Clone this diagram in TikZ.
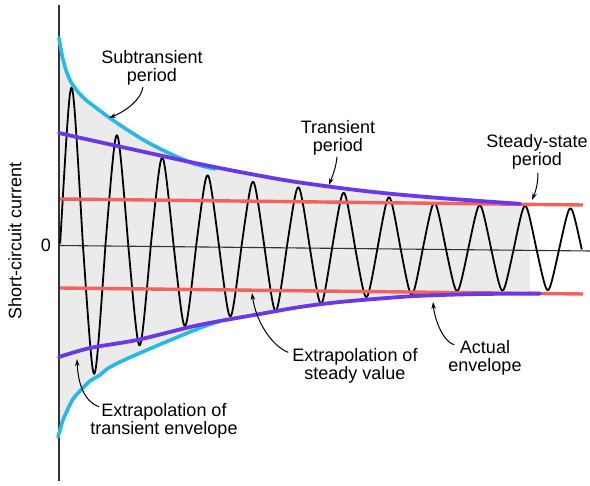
\documentclass[tikz,border=0pt]{standalone}
\usepackage{fontspec}
\setmainfont{Liberation Sans}
\usetikzlibrary{arrows.meta,calc}
\definecolor{envcyan}{HTML}{25B9EA}
\definecolor{envpurple}{HTML}{6A38E6}
\definecolor{envred}{HTML}{F2625E}
\definecolor{areagray}{HTML}{EBEBEB}
\begin{document}
\begin{tikzpicture}[x=1pt,y=-1pt,
  declare function={mid(\t)=243.5+0.0115*(\t-60); tri(\t)=asin(0.9*cos(\t))/asin(0.9);},
  txt/.style={font=\fontsize{18}{18}\selectfont, align=center, inner sep=0pt},
  wave/.style={line width=1.8pt, line join=round, black},
  cyanline/.style={envcyan, line width=3.6pt, line cap=round},
  purpleline/.style={envpurple, line width=3.8pt, line cap=round},
  redline/.style={envred, line width=3.4pt},
  axisline/.style={line width=1.1pt, black!80},
  arr/.style={line width=1pt, -{Stealth[length=7pt,width=4.5pt]}}]
\useasboundingbox (0,0) rectangle (590,486);
% shaded area inside the actual envelope
\fill[areagray] plot[smooth] coordinates {(59,38) (62,55) (66,70) (71,82) (78,92) (86,100) (95,107) (107,116) (123,127) (147,142) (173,155) (195,164) (215,169)}
  -- plot[smooth] coordinates {(240,172) (290,181) (340,188) (383,193) (433,197.5) (480,201) (520,203.8)}
  -- (530,204.3) -- (530,293.6)
  -- plot[smooth] coordinates {(480,294) (433,295.3) (400,297) (340,302) (300,307) (260,314) (220,321)}
  -- plot[smooth] coordinates {(200,328) (173,339) (140,353) (120,362) (107,369) (100,375) (90,381) (80,391) (73,399) (67,411) (63,420) (58,437)}
  -- cycle;
% axes
\draw[axisline] (59,5) -- (59,481);
\draw[axisline] (59,245.5) -- (590,251);
% waveform
\draw[wave] (60.16,{mid(60.16)})
  foreach \cx/\amp/\sg in {71.50/156/1, 94.18/130/-1, 116.86/109/1, 139.54/101/-1,
     162.22/87/1, 184.90/81/-1, 207.58/70/1, 230.26/71/-1, 252.94/64/1, 275.62/65/-1,
     298.30/59/1, 320.98/57/-1, 343.66/54/1, 366.34/50/-1, 389.02/50/1, 411.70/47/-1,
     434.38/45/1, 457.06/43/-1, 479.74/43/1, 502.42/42/-1, 525.10/43/1, 547.78/41/-1,
     570.46/41/1}
  { -- plot[domain=-11.34:11.34, samples=31] ({\cx+\x},{mid(\cx+\x)-\sg*\amp*tri(\x*360/45.36)}) };
% steady-state lines
\draw[redline] (60,199) -- (583,205);
\draw[redline] (60,288) -- (583,294);
% subtransient envelope
\draw[cyanline] plot[smooth] coordinates {(59,38) (62,55) (66,70) (71,82) (78,92) (86,100) (95,107) (107,116) (123,127) (147,142) (173,155) (195,164) (215,169)};
\draw[cyanline] plot[smooth] coordinates {(58,437) (63,420) (67,411) (73,399) (80,391) (90,381) (100,375) (107,369) (120,362) (140,353) (173,339) (200,328) (220,321)};
% transient envelope
\draw[purpleline] plot[smooth] coordinates {(59,133) (90,140) (140,151) (190,162) (240,172) (290,181) (340,188) (383,193) (433,197.5) (480,201) (520,203.8)};
\draw[purpleline] plot[smooth] coordinates {(59,357) (90,348) (137,340) (190,327) (220,321) (260,314) (300,307) (340,302) (400,297) (433,295.3) (480,294) (540,293.6)};
% labels
\node[txt] (sub) at (152,67.4) {Subtransient\\period};
\node[txt] (tra) at (338,137.4) {Transient\\period};
\node[txt] (ste) at (537,151.4) {Steady-state\\period};
\node[txt] (exs) at (355,365.4) {Extrapolation of\\steady value};
\node[txt] (act) at (485,357.4) {Actual\\envelope};
\node[txt] (ext) at (164,420.5) {Extrapolation of\\transient envelope};
\node[txt, rotate=90] (ylab) at (15,241) {Short-circuit current};
\node[txt] (zero) at (46,245) {0};
% arrow tips
\coordinate (tipSub) at (109,118);
\coordinate (tipTra) at (329,185);
\coordinate (tipSte) at (532,200);
\coordinate (tipExs) at (252,293);
\coordinate (tipAct) at (433,302);
\coordinate (tipExt) at (77,359);
% arrows
\draw[arr] ($(sub.south)+(-9,2)$) .. controls (141,100) and (126,111) .. (tipSub);
\draw[arr] ($(tra.south)+(-1,2)$) .. controls (336,168) and (332,177) .. (tipTra);
\draw[arr] ($(ste.south)+(1,4)$) .. controls (538,185) and (535,193) .. (tipSte);
\draw[arr] ($(exs.west)+(-4,-13)$) .. controls (272,346) and (256,322) .. (tipExs);
\draw[arr] ($(act.north west)+(6,5)$) .. controls (444,342) and (435,322) .. (tipAct);
\draw[arr] ($(ext.north west)+(9,4)$) .. controls (85,402) and (78,385) .. (tipExt);
\end{tikzpicture}
\end{document}
